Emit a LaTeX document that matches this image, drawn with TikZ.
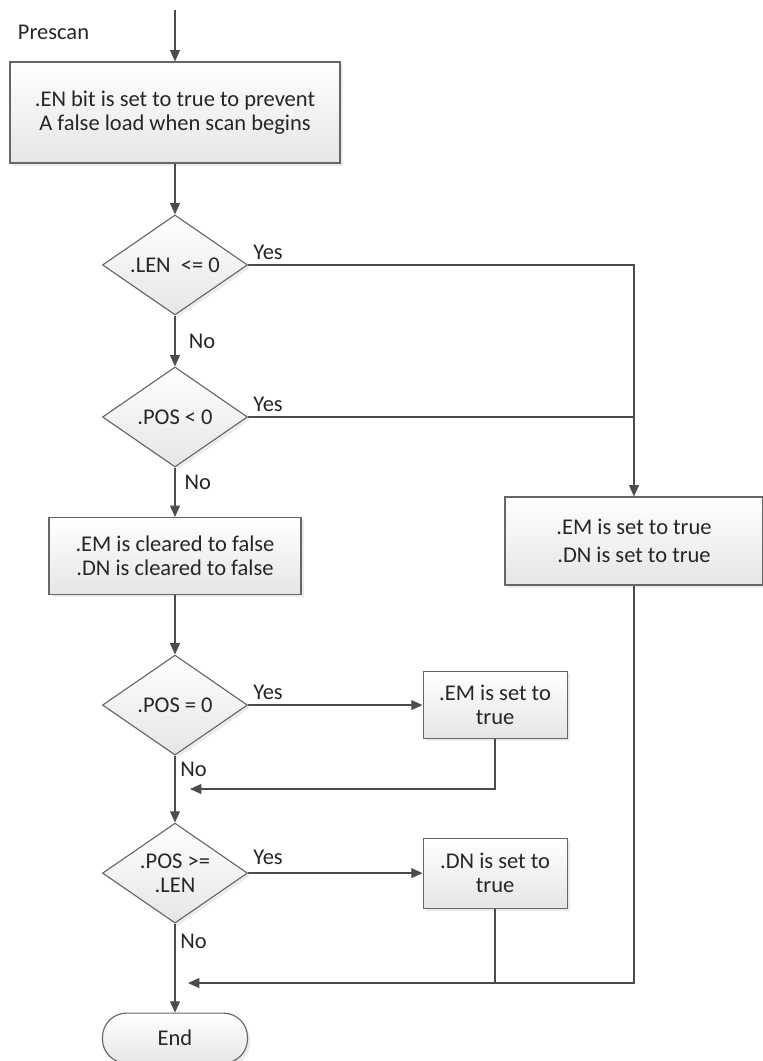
\documentclass[tikz,border=0pt]{standalone}
\usepackage{fontspec}
\setmainfont{Carlito}
\usetikzlibrary{shapes.geometric,arrows.meta,positioning,shadows}

\begin{document}
\begin{tikzpicture}[x=0.025cm, y=-0.025cm, font=\fontsize{16}{16.8}\selectfont, text=black!85]
    % Define styles
    \tikzset{
      process/.style={rectangle, draw=black!60, line width=0.8pt, top color=white, bottom color=black!10, drop shadow={opacity=0.15, shadow xshift=2pt, shadow yshift=-2pt}, align=center, inner sep=2pt},
      decision/.style={diamond, draw=black!60, line width=0.8pt, top color=white, bottom color=black!10, drop shadow={opacity=0.15, shadow xshift=2pt, shadow yshift=-2pt}, align=center, aspect=1.45, inner sep=0pt, minimum width=3.625cm, minimum height=2.5cm},
      terminal/.style={rectangle, rounded corners=0.6cm, draw=black!60, line width=0.8pt, top color=white, bottom color=black!10, drop shadow={opacity=0.15, shadow xshift=2pt, shadow yshift=-2pt}, minimum width=3.625cm, minimum height=1.25cm},
      line/.style={draw=black!70, line width=0.9pt},
      arrow/.style={line, -{Triangle[length=8pt, width=7pt]}}
    }
    \useasboundingbox (0,0) rectangle (763,1061);

    % Nodes
    \coordinate (top) at (175,10);
    \node [anchor=west] (prescan) at (13,32) {Prescan};
    \node [process, minimum width=8.25cm, minimum height=2.525cm] (init) at (175,112.5) {.EN bit is set to true to prevent\\A false load when scan begins};
    \node [decision, below of=init, node distance=3.81cm] (lenchk) {.LEN\ \ <= 0};
    \node [decision, below of=lenchk, node distance=3.8cm] (poschk) {.POS < 0};
    \node [process, below of=poschk, node distance=3.475cm, minimum width=6.3cm, minimum height=1.925cm] (clear) {.EM is cleared to false\\.DN is cleared to false};
    \node [decision, below of=clear, node distance=3.725cm] (zerochk) {.POS = 0};
    \node [process, right of=zerochk, node distance=8cm, minimum width=3.6cm, minimum height=1.675cm] (setem) {.EM is set to\\true};
    \node [decision, below of=zerochk, node distance=4.2cm] (donechk) {.POS >=\\.LEN};
    \node [process, right of=donechk, node distance=8cm, minimum width=3.6cm, minimum height=1.75cm] (setdn) {.DN is set to\\true};
    \node [terminal, below of=donechk, node distance=4.125cm] (end) {End};
    \node [process, minimum width=6.45cm, minimum height=2.2cm] (setboth) at (634,541) {.EM is set to true\\[3pt].DN is set to true};
    \coordinate (back1) at (190,789);
    \coordinate (back2) at (188,983);

    % Arrows
    \draw [arrow] (top) -- (init);
    \draw [arrow] (init) -- (lenchk);
    \draw [arrow] (lenchk) -- node[right, xshift=6pt] {No} (poschk);
    \draw [arrow] (poschk) -- node[right, pos=0.3, xshift=3pt] {No} (clear);
    \draw [arrow] (clear) -- (zerochk);
    \draw [arrow] (zerochk) -- node[right, pos=0.2] {No} (donechk);
    \draw [arrow] (donechk) -- node[right, pos=0.2] {No} (end);
    \draw [arrow] (lenchk.east) -- node[above right, pos=0] {Yes} (lenchk.east -| setboth.north) -- (setboth.north);
    \draw [line] (poschk.east) -- node[above right, pos=0] {Yes} (poschk.east -| setboth.north);
    \draw [arrow] (zerochk.east) -- node[above right, pos=0] {Yes} (setem.west);
    \draw [arrow] (donechk.east) -- node[above right, pos=0, yshift=2pt] {Yes} (setdn.west);
    \draw [arrow] (setem.south) |- (back1);
    \draw [arrow] (setboth.south) |- (back2);
    \draw [line] (setdn.south) -- (setdn.south |- back2);
\end{tikzpicture}
\end{document}
